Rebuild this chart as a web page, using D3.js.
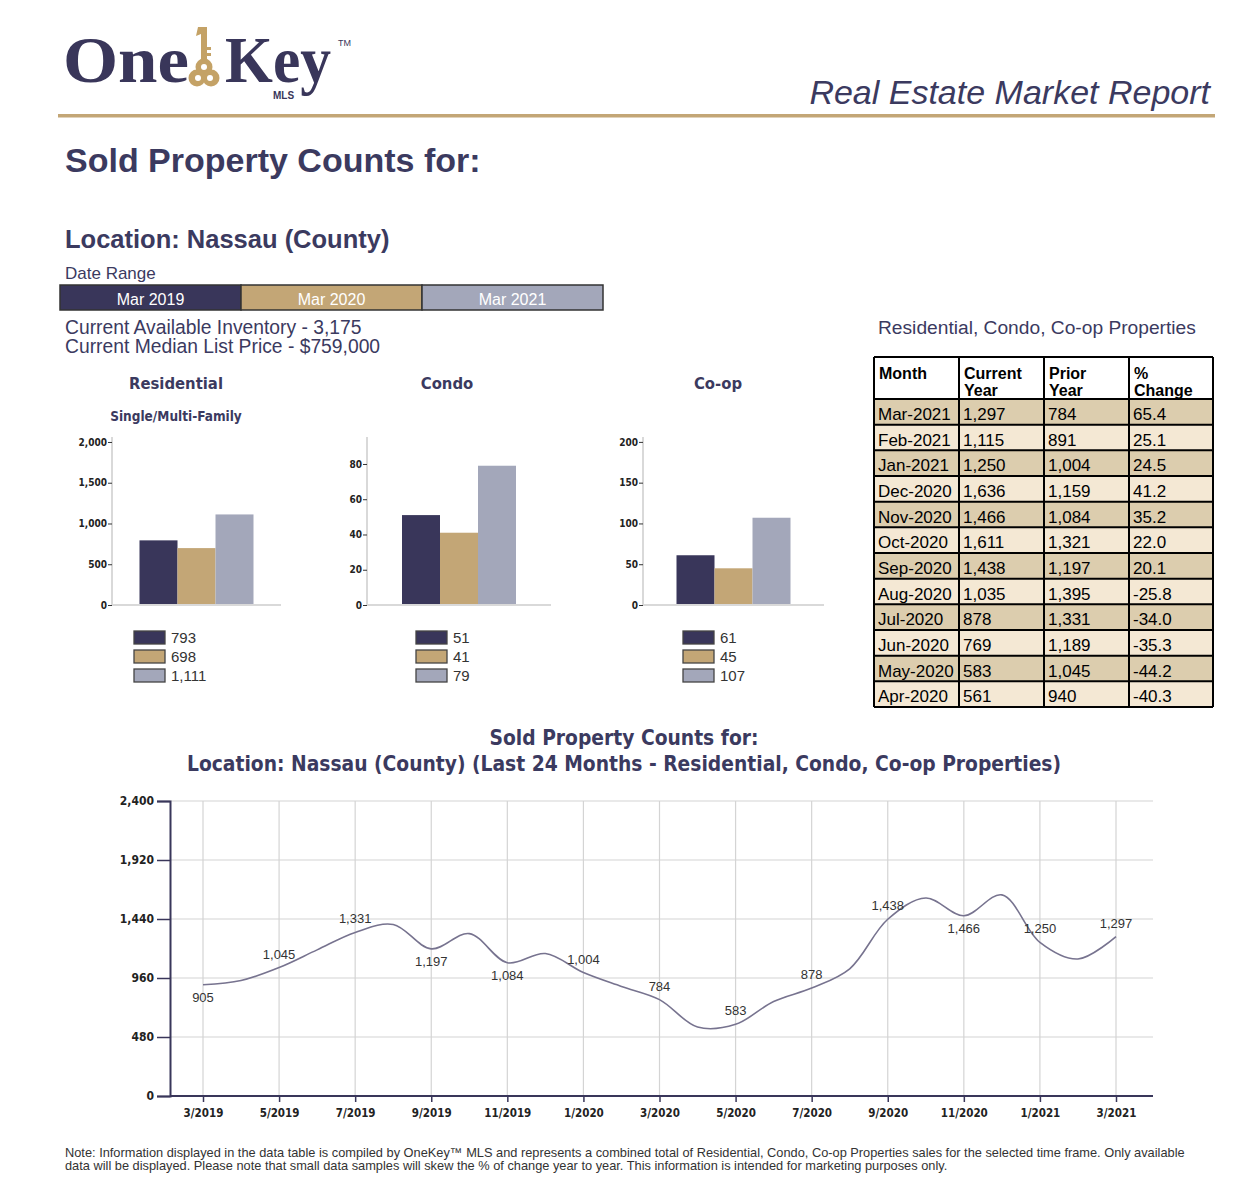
<!DOCTYPE html>
<html>
<head>
<meta charset="utf-8">
<script src="https://cdn.jsdelivr.net/npm/d3@7"></script>
<style>
  body { margin: 0; background: #fff; }
  svg { display: block; }
</style>
</head>
<body>
<svg id="report" width="1243" height="1192"></svg>
<script>
// ---- data ----
const periods = ["Mar 2019", "Mar 2020", "Mar 2021"];
const categories = ["Residential", "Condo", "Co-op"];
const residential = [793, 698, 1111];
const condo = [51, 41, 79];
const coop = [61, 45, 107];

const tableMonths = ["Mar-2021", "Feb-2021", "Jan-2021", "Dec-2020", "Nov-2020", "Oct-2020",
  "Sep-2020", "Aug-2020", "Jul-2020", "Jun-2020", "May-2020", "Apr-2020"];
const currentYear = [1297, 1115, 1250, 1636, 1466, 1611, 1438, 1035, 878, 769, 583, 561];
const priorYear = [784, 891, 1004, 1159, 1084, 1321, 1197, 1395, 1331, 1189, 1045, 940];
const pctChange = ["65.4", "25.1", "24.5", "41.2", "35.2", "22.0", "20.1", "-25.8", "-34.0", "-35.3", "-44.2", "-40.3"];

const lineMonths = ["3/2019", "4/2019", "5/2019", "6/2019", "7/2019", "8/2019", "9/2019", "10/2019",
  "11/2019", "12/2019", "1/2020", "2/2020", "3/2020", "4/2020", "5/2020", "6/2020", "7/2020",
  "8/2020", "9/2020", "10/2020", "11/2020", "12/2020", "1/2021", "2/2021", "3/2021"];
const lineValues = [905, 940, 1045, 1189, 1331, 1395, 1197, 1321, 1084, 1159, 1004, 891, 784,
  561, 583, 769, 878, 1035, 1438, 1611, 1466, 1636, 1250, 1115, 1297];
const lineTicks = [0, 480, 960, 1440, 1920, 2400];

// ---- styles ----
const navy = "#39365a";
const tan = "#c3a676";
const slate = "#a3a7ba";
const ink = "#3b3a5f";
const sans = "'Liberation Sans', Arial, sans-serif";
const chartFont = "'DejaVu Sans Condensed', 'DejaVu Sans', sans-serif";
const fmt = d3.format(",");

const svg = d3.select("#report");
const periodColor = d3.scaleOrdinal().domain(periods).range([navy, tan, slate]);

// ---- header / logo ----
const logo = svg.append("g");
logo.append("text").attr("x", 63).attr("y", 82)
  .attr("textLength", 126).attr("lengthAdjust", "spacingAndGlyphs")
  .style("font-family", "'Liberation Serif', 'DejaVu Serif', serif")
  .style("font-weight", "bold").style("font-size", "66px").style("fill", navy)
  .text("One");
logo.append("text").attr("x", 225).attr("y", 82)
  .attr("textLength", 106).attr("lengthAdjust", "spacingAndGlyphs")
  .style("font-family", "'Liberation Serif', 'DejaVu Serif', serif")
  .style("font-weight", "bold").style("font-size", "66px").style("fill", navy)
  .text("Key");
logo.append("text").attr("x", 338).attr("y", 46)
  .style("font-family", sans).style("font-size", "9px").style("fill", navy).text("TM");
logo.append("text").attr("x", 273).attr("y", 99)
  .style("font-family", sans).style("font-weight", "bold").style("font-size", "10px")
  .style("fill", navy).text("MLS");

// key glyph between "One" and "Key"
const keyG = logo.append("g").style("fill", "#c4a266");
keyG.append("path").attr("d", "M198,27 L207,27 L207,60 L201,60 L201,34 L196,36 Z");
keyG.append("rect").attr("x", 207).attr("y", 47).attr("width", 4).attr("height", 3);
keyG.append("rect").attr("x", 207).attr("y", 53).attr("width", 4).attr("height", 3);
[[204, 67], [197, 78], [211, 78]].forEach(([cx, cy]) => {
  keyG.append("circle").attr("cx", cx).attr("cy", cy).attr("r", 8.5);
});
[[204, 67], [198, 78], [210, 78]].forEach(([cx, cy]) => {
  logo.append("circle").attr("cx", cx).attr("cy", cy).attr("r", 3).style("fill", "#fff");
});

svg.append("text").attr("x", 1210).attr("y", 104).attr("text-anchor", "end")
  .style("font-family", sans).style("font-style", "italic").style("font-size", "34px")
  .style("fill", ink).text("Real Estate Market Report");

svg.append("rect").attr("x", 58).attr("y", 114).attr("width", 1157).attr("height", 3.5)
  .style("fill", tan);

svg.append("text").attr("x", 65).attr("y", 172)
  .style("font-family", sans).style("font-weight", "bold").style("font-size", "34px")
  .style("fill", ink).text("Sold Property Counts for:");

svg.append("text").attr("x", 65).attr("y", 248)
  .style("font-family", sans).style("font-weight", "bold").style("font-size", "25.5px")
  .style("fill", ink).text("Location: Nassau (County)");

svg.append("text").attr("x", 65).attr("y", 279)
  .style("font-family", sans).style("font-size", "17px").style("fill", ink).text("Date Range");

// date range bar
const dateX = d3.scaleBand().domain(periods).range([60, 603]);
const dateBar = svg.append("g");
dateBar.selectAll("rect").data(periods).enter().append("rect")
  .attr("x", d => dateX(d)).attr("y", 285)
  .attr("width", dateX.bandwidth()).attr("height", 25)
  .style("fill", d => periodColor(d)).style("stroke", "#333").style("stroke-width", 1.5);
dateBar.selectAll("text").data(periods).enter().append("text")
  .attr("x", d => dateX(d) + dateX.bandwidth() / 2).attr("y", 305)
  .attr("text-anchor", "middle")
  .style("font-family", sans).style("font-size", "16px").style("fill", "#fff")
  .text(d => d);

svg.append("text").attr("x", 65).attr("y", 334)
  .style("font-family", sans).style("font-size", "19.3px").style("fill", ink)
  .text("Current Available Inventory - 3,175");
svg.append("text").attr("x", 65).attr("y", 353)
  .style("font-family", sans).style("font-size", "19.3px").style("fill", ink)
  .text("Current Median List Price - $759,000");

// ---- small bar charts ----
const barCharts = [
  { name: categories[0], sub: "Single/Multi-Family", values: residential,
    left: 112, right: 281, titleX: 176, legendX: 134, max: 2061, step: 500 },
  { name: categories[1], sub: null, values: condo,
    left: 367, right: 551, titleX: 447, legendX: 416, max: 95.3, step: 20 },
  { name: categories[2], sub: null, values: coop,
    left: 643, right: 824, titleX: 718, legendX: 683, max: 206, step: 50 }
];

barCharts.forEach(c => {
  const g = svg.append("g");
  const y = d3.scaleLinear().domain([0, c.max]).range([605, 437]);
  const mid = (c.left + c.right) / 2;
  const x = d3.scaleBand().domain(periods).range([mid - 57, mid + 57]);

  g.append("text").attr("x", c.titleX).attr("y", 389).attr("text-anchor", "middle")
    .style("font-family", chartFont).style("font-weight", "bold").style("font-size", "16.5px")
    .style("fill", ink).text(c.name);
  if (c.sub) {
    g.append("text").attr("x", c.titleX).attr("y", 421).attr("text-anchor", "middle")
      .style("font-family", chartFont).style("font-weight", "bold").style("font-size", "13.5px")
      .style("fill", ink).text(c.sub);
  }

  g.selectAll("rect.bar").data(c.values).enter().append("rect")
    .attr("class", "bar")
    .attr("x", (d, i) => x(periods[i]))
    .attr("y", d => y(d))
    .attr("width", x.bandwidth())
    .attr("height", d => y(0) - y(d))
    .style("fill", (d, i) => periodColor(periods[i]));

  // axes
  g.append("line").attr("x1", c.left).attr("x2", c.left).attr("y1", 437).attr("y2", 605)
    .style("stroke", "#d9d9d9").style("stroke-width", 2);
  g.append("line").attr("x1", c.left).attr("x2", c.right).attr("y1", 605).attr("y2", 605)
    .style("stroke", "#d9d9d9").style("stroke-width", 2);

  const yAxis = g.append("g").attr("transform", `translate(${c.left},0)`)
    .call(d3.axisLeft(y).tickValues(d3.range(0, c.max, c.step)).tickSize(4).tickPadding(1)
      .tickFormat(fmt));
  yAxis.select(".domain").remove();
  yAxis.selectAll("line").style("stroke", "#333");
  yAxis.selectAll("text").style("font-family", chartFont).style("font-weight", "bold")
    .style("font-size", "10px").style("fill", "#222");

  // legend
  const lg = g.append("g").attr("transform", `translate(${c.legendX},631)`);
  lg.selectAll("rect").data(c.values).enter().append("rect")
    .attr("x", 0).attr("y", (d, i) => i * 19)
    .attr("width", 31).attr("height", 13)
    .style("fill", (d, i) => periodColor(periods[i]))
    .style("stroke", "#444").style("stroke-width", 1.3);
  lg.selectAll("text").data(c.values).enter().append("text")
    .attr("x", 37).attr("y", (d, i) => i * 19 + 11.5)
    .style("font-family", sans).style("font-size", "15px").style("fill", "#333")
    .text(d => fmt(d));
});

// ---- table ----
svg.append("text").attr("x", 878).attr("y", 334)
  .style("font-family", sans).style("font-size", "19.2px").style("fill", ink)
  .text("Residential, Condo, Co-op Properties");

const colEdges = [874, 959, 1044, 1129, 1213];
const rowY = d3.scaleBand().domain(tableMonths).range([399, 707]);
const table = svg.append("g");

table.append("rect").attr("x", colEdges[0]).attr("y", 357)
  .attr("width", colEdges[4] - colEdges[0]).attr("height", 42).style("fill", "#fff");
table.selectAll("rect.row").data(tableMonths).enter().append("rect")
  .attr("class", "row")
  .attr("x", colEdges[0]).attr("y", d => rowY(d))
  .attr("width", colEdges[4] - colEdges[0]).attr("height", rowY.bandwidth())
  .style("fill", (d, i) => i % 2 === 0 ? "#dccdae" : "#f4e8d4");

const headers = [["Month"], ["Current", "Year"], ["Prior", "Year"], ["%", "Change"]];
headers.forEach((h, ci) => {
  h.forEach((line, li) => {
    table.append("text").attr("x", colEdges[ci] + 5).attr("y", 379 + li * 17)
      .style("font-family", sans).style("font-weight", "bold").style("font-size", "16px")
      .style("fill", "#000").text(line);
  });
});

const rows = tableMonths.map((m, i) => [m, fmt(currentYear[i]), fmt(priorYear[i]), pctChange[i]]);
rows.forEach((r, ri) => {
  r.forEach((cell, ci) => {
    table.append("text").attr("x", colEdges[ci] + 4).attr("y", rowY(tableMonths[ri]) + 21)
      .style("font-family", sans).style("font-size", "17px").style("fill", "#000").text(cell);
  });
});

// grid lines of table
[357, ...tableMonths.map(d => rowY(d)), 707].forEach(yy => {
  table.append("line").attr("x1", colEdges[0]).attr("x2", colEdges[4]).attr("y1", yy).attr("y2", yy)
    .style("stroke", "#000").style("stroke-width", 2);
});
colEdges.forEach(xx => {
  table.append("line").attr("x1", xx).attr("x2", xx).attr("y1", 357).attr("y2", 707)
    .style("stroke", "#000").style("stroke-width", 2);
});

// ---- line chart ----
svg.append("text").attr("x", 624).attr("y", 745).attr("text-anchor", "middle")
  .style("font-family", chartFont).style("font-weight", "bold").style("font-size", "20.8px")
  .style("fill", ink).text("Sold Property Counts for:");
svg.append("text").attr("x", 624).attr("y", 771).attr("text-anchor", "middle")
  .style("font-family", chartFont).style("font-weight", "bold").style("font-size", "20.8px")
  .style("fill", ink)
  .text("Location: Nassau (County) (Last 24 Months - Residential, Condo, Co-op Properties)");

const lx = d3.scalePoint().domain(lineMonths).range([203, 1116]);
const ly = d3.scaleLinear().domain([0, 2400]).range([1096, 801]);
const labeled = lineMonths.filter((d, i) => i % 2 === 0);
const lc = svg.append("g");

// grid
lc.selectAll("line.hgrid").data(lineTicks.slice(1)).enter().append("line")
  .attr("class", "hgrid")
  .attr("x1", 170).attr("x2", 1153).attr("y1", d => ly(d)).attr("y2", d => ly(d))
  .style("stroke", "#d4d4d4").style("stroke-width", 1.2);
lc.selectAll("line.vgrid").data(labeled).enter().append("line")
  .attr("class", "vgrid")
  .attr("x1", d => lx(d)).attr("x2", d => lx(d)).attr("y1", 801).attr("y2", 1096)
  .style("stroke", "#d4d4d4").style("stroke-width", 1.2);

// axes
const lyAxis = lc.append("g").attr("transform", "translate(170,0)")
  .call(d3.axisLeft(ly).tickValues(lineTicks).tickSize(13).tickPadding(3).tickFormat(fmt));
lyAxis.select(".domain").style("stroke", navy).style("stroke-width", 2);
lyAxis.selectAll("line").style("stroke", navy).style("stroke-width", 1.5);
lyAxis.selectAll("text").style("font-family", chartFont).style("font-weight", "bold")
  .style("font-size", "12px").style("fill", "#222");

const lxAxis = lc.append("g").attr("transform", "translate(0,1096)")
  .call(d3.axisBottom(lx).tickValues(labeled).tickSize(6).tickPadding(7).tickSizeOuter(0));
lxAxis.select(".domain").remove();
lc.append("line").attr("x1", 170).attr("x2", 1153).attr("y1", 1096).attr("y2", 1096)
  .style("stroke", navy).style("stroke-width", 2);
lxAxis.selectAll("line").style("stroke", navy).style("stroke-width", 1.5);
lxAxis.selectAll("text").style("font-family", chartFont).style("font-weight", "bold")
  .style("font-size", "11.5px").style("fill", "#222");

// line
const line = d3.line()
  .x((d, i) => lx(lineMonths[i]))
  .y(d => ly(d))
  .curve(d3.curveCatmullRom.alpha(0.5));
lc.append("path").datum(lineValues)
  .attr("d", line)
  .style("fill", "none").style("stroke", "#77738f").style("stroke-width", 1.6);

// value labels on every other month; below when point is a local low
lc.selectAll("text.val").data(lineValues.map((v, i) => ({ v, i })).filter(d => d.i % 2 === 0))
  .enter().append("text")
  .attr("class", "val")
  .attr("x", d => lx(lineMonths[d.i]))
  .attr("y", d => {
    const prev = d.i > 0 ? lineValues[d.i - 1] : Infinity;
    const next = d.i < lineValues.length - 1 ? lineValues[d.i + 1] : Infinity;
    const low = d.v < prev && d.v < next;
    return low ? ly(d.v) + 17 : ly(d.v) - 9;
  })
  .attr("text-anchor", "middle")
  .style("font-family", sans).style("font-size", "13px").style("fill", "#333")
  .text(d => fmt(d.v));

// ---- footnote ----
const note = [
  "Note: Information displayed in the data table is compiled by OneKey\u2122 MLS and represents a combined total of Residential, Condo, Co-op Properties sales for the selected time frame. Only available",
  "data will be displayed. Please note that small data samples will skew the % of change year to year. This information is intended for marketing purposes only."
];
svg.selectAll("text.note").data(note).enter().append("text")
  .attr("class", "note")
  .attr("x", 65).attr("y", (d, i) => 1157 + i * 13)
  .style("font-family", sans).style("font-size", "12.8px").style("fill", "#333")
  .text(d => d);
</script>
</body>
</html>
